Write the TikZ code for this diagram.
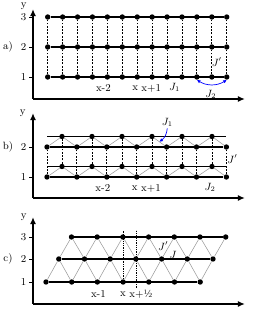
\documentclass[tikz,border=0pt]{standalone}
\usetikzlibrary{arrows.meta,calc}
\begin{document}
\begin{tikzpicture}[x=0.03cm,y=0.03cm,
	dot/.style={circle,fill=black,inner sep=0pt,minimum size=4.6pt},
	chain/.style={line width=0.9pt},
	rung/.style={dash pattern=on 1.6pt off 1.2pt,line width=0.8pt},
	tri/.style={gray!80,line width=0.45pt},
	guide/.style={densely dotted,line width=0.5pt},
	axis/.style={line width=1.2pt,-{Latex[length=6pt,width=5pt]}},
	tick/.style={line width=0.7pt},
	lab/.style={font=\small,inner sep=1pt},
	coupling/.style={blue,line width=0.6pt}]
	\useasboundingbox (0,0) rectangle (255,312);
	
	%Panel a: three chains on a square grid
	\coordinate (a-o) at (33,213);
	\coordinate (a-ytip) at (33,303);
	\coordinate (a-xtip) at (245,213);
	\draw[axis] (a-o) -- (a-ytip);
	\draw[axis] (a-o) -- (a-xtip);
	\node[lab,anchor=east] (a-ylab) at ($(a-ytip)+(-5,3)$) {y};
	\node[lab] (a-name) at (8,265) {a)};
	\foreach \r/\Y in {1/235,2/265,3/295}
	{
		\draw[tick] (29,\Y) node[lab,left,inner sep=2pt] (a-tick-\r) {\r} -- (33,\Y);
		\foreach \i in {1,...,13}
		\node[dot] (a-\i-\r) at ({47.7+14.92*(\i-1)},\Y) {};
		\draw[chain] (a-1-\r) -- (a-13-\r);
	}
	\foreach \i in {1,...,13}
	\draw[rung] (a-\i-1) -- (a-\i-2) (a-\i-2) -- (a-\i-3);
	\node[lab] (a-xm2) at ($(a-5-1)+(-4,-11)$) {x-2};
	\node[lab] (a-x) at ($(a-7-1)+(-2,-11)$) {x};
	\node[lab] (a-xp1) at ($(a-8-1)+(-1,-11)$) {x+1};
	\node[lab] (a-J1) at ($(a-9-1)!0.5!(a-10-1)+(0,-10)$) {$J_1$};
	\node[lab] (a-J2) at ($(a-12-1)+(-1,-17)$) {$J_2$};
	\node[lab] (a-Jp) at ($(a-12-1)!0.5!(a-12-2)+(5,0)$) {$J'$};
	\draw[coupling,{Latex[length=3pt,width=3pt]}-{Latex[length=3pt,width=3pt]}] (a-11-1.south) to[bend right=32] (a-13-1.south);
	
	%Panel b: two zigzag ladders
	\coordinate (b-o) at (33,114);
	\coordinate (b-ytip) at (33,199);
	\coordinate (b-xtip) at (245,114);
	\draw[axis] (b-o) -- (b-ytip);
	\draw[axis] (b-o) -- (b-xtip);
	\node[lab,anchor=east] (b-ylab) at ($(b-ytip)+(-6,0)$) {y};
	\node[lab] (b-name) at (8,165) {b)};
	\foreach \r/\Y in {1/135,2/165}
	{
		\draw[tick] (29,\Y) node[lab,left,inner sep=2pt] (b-tick-\r) {\r} -- (33,\Y);
		\foreach \i in {1,...,7}
		\node[dot] (b-l-\i-\r) at ({47+29.9*(\i-1)},\Y) {};
		\foreach \i in {1,...,6}
		\node[dot] (b-u-\i-\r) at ({62+30*(\i-1)},\Y+10.5) {};
		\foreach \i [count=\j from 2] in {1,...,6}
		\draw[tri] (b-l-\i-\r) -- (b-u-\i-\r) -- (b-l-\j-\r);
		\draw[chain] (b-l-1-\r) -- (b-l-7-\r);
		\draw[chain] (b-l-1-\r |- b-u-1-\r) -- (b-l-7-\r |- b-u-1-\r);
	}
	\foreach \i in {1,...,7}
	\draw[rung] (b-l-\i-1) -- (b-l-\i-2);
	\foreach \i in {1,...,6}
	\draw[rung] (b-u-\i-1) -- (b-u-\i-2);
	\node[lab] (b-xm2) at ($(b-l-3-1)+(-4,-11)$) {x-2};
	\node[lab] (b-x) at ($(b-l-4-1)+(-2,-11)$) {x};
	\node[lab] (b-xp1) at ($(b-u-4-1 |- b-l-4-1)+(-1,-11)$) {x+1};
	\node[lab] (b-J2) at ($(b-u-6-1 |- b-l-6-1)+(-2,-10)$) {$J_2$};
	\node[lab] (b-Jp) at ($(b-l-7-1)!0.5!(b-l-7-2)+(6,3)$) {$J'$};
	\coordinate (b-hit) at ($(b-u-4-2)!0.5!(b-l-5-2)$);
	\node[lab] (b-J1) at ($(b-hit)+(8,19)$) {$J_1$};
	\draw[coupling,-{Latex[length=3pt,width=3pt]}] (b-J1.south) to[bend left=25] (b-hit);
	
	%Panel c: triangular lattice
	\coordinate (c-o) at (33,8);
	\coordinate (c-ytip) at (33,95);
	\coordinate (c-xtip) at (245,8);
	\draw[axis] (c-o) -- (c-ytip);
	\draw[axis] (c-o) -- (c-xtip);
	\node[lab,anchor=east] (c-ylab) at ($(c-ytip)+(-5,0)$) {y};
	\node[lab] (c-name) at (8,53) {c)};
	\foreach \r/\Y/\X in {1/30/46,2/53/58.8,3/75/71.5}
	{
		\draw[tick] (29,\Y) node[lab,left,inner sep=2pt] (c-tick-\r) {\r} -- (33,\Y);
		\foreach \i in {1,...,7}
		\node[dot] (c-\i-\r) at ({\X+25.7*(\i-1)},\Y) {};
	}
	\foreach \r [count=\s from 2] in {1,2}
	{
		\foreach \i in {1,...,7}
		\draw[tri] (c-\i-\r) -- (c-\i-\s);
		\foreach \i [count=\j from 2] in {1,...,6}
		\draw[tri] (c-\i-\s) -- (c-\j-\r);
	}
	\foreach \r in {1,2,3}
	\draw[chain] (c-1-\r) -- (c-7-\r);
	\draw[guide] ($(c-4-1)+(0,-2)$) -- ($(c-4-1)+(0,52)$);
	\draw[guide] ($(c-4-2)+(0,-29)$) -- ($(c-4-2)+(0,29)$);
	\node[lab] (c-xm1) at ($(c-3-1)+(1,-12)$) {x-1};
	\node[lab] (c-x) at ($(c-4-1)+(0,-12)$) {x};
	\node[lab] (c-xph) at ($(c-4-2 |- c-4-1)+(5,-12)$) {x+½};
	\node[lab] (c-Jp) at ($(c-5-2)+(1.5,13)$) {$J'$};
	\node[lab] (c-J) at ($(c-5-2)+(11.5,4)$) {$J$};
	
\end{tikzpicture}
\end{document}
